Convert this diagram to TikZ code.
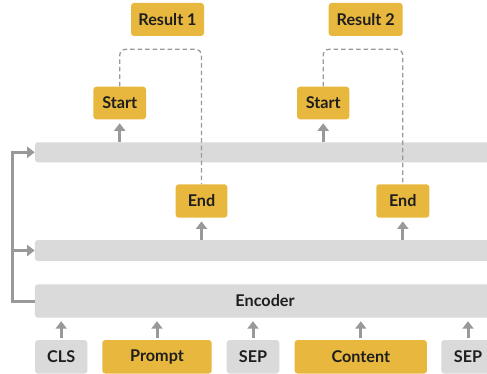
\documentclass[tikz,border=0pt]{standalone}
\usepackage{fontspec}
\setmainfont{Lato}
\usetikzlibrary{arrows.meta}
\definecolor{ybox}{HTML}{E8B83E}
\definecolor{gbox}{HTML}{DADADA}
\definecolor{garr}{HTML}{999999}
\definecolor{txt}{HTML}{1E1E1E}
\tikzset{
  base/.style={rounded corners=3pt, inner sep=0pt, font=\fontsize{16.2}{19}\selectfont\bfseries, text=txt},
  yel/.style={base, fill=ybox},
  gry/.style={base, fill=gbox},
  arr/.style={draw=garr, line width=3pt, -{Triangle[width=11pt,length=7.5pt]}},
  fb/.style={draw=garr, line width=3pt, -{Triangle[width=11pt,length=7.5pt]}},
  dashline/.style={draw=garr, line width=1.3pt, dash pattern=on 4.5pt off 3pt, rounded corners=6pt}
}
\begin{document}
\begin{tikzpicture}[x=1pt,y=-1pt]
\clip (0,0) rectangle (487,374);
\fill[white] (0,0) rectangle (487,374);
% bars
\node[gry, minimum width=465pt, minimum height=20pt, anchor=west] (b1) at (34.7,152.3) {};
\node[gry, minimum width=465pt, minimum height=21pt, anchor=west] (b2) at (34.7,250.5) {};
\node[gry, minimum width=460.3pt, minimum height=33.4pt, anchor=west] (enc) at (34.7,301) {Encoder};
% tokens
\node[gry, minimum width=52.3pt, minimum height=33.5pt] (cls) at (61.2,356.8) {CLS};
\node[yel, minimum width=109.4pt, minimum height=33.5pt] (prompt) at (157,356.8) {Prompt};
\node[gry, minimum width=52.6pt, minimum height=33.5pt] (sep1) at (253,356.8) {SEP};
\node[yel, minimum width=132.3pt, minimum height=33.5pt] (content) at (360.8,356.8) {Content};
\node[gry, minimum width=53.4pt, minimum height=33.5pt] (sep2) at (468,356.8) {SEP};
% outputs
\node[yel, minimum width=73pt, minimum height=33pt] (r1) at (167.5,19.5) {Result 1};
\node[yel, minimum width=74pt, minimum height=33pt] (r2) at (365.7,19.5) {Result 2};
\node[yel, minimum width=52.7pt, minimum height=32.6pt] (s1) at (119.7,103) {Start};
\node[yel, minimum width=52.3pt, minimum height=32.6pt] (s2) at (323.2,103) {Start};
\node[yel, minimum width=51.6pt, minimum height=33.4pt] (e1) at (201.5,201) {End};
\node[yel, minimum width=53pt, minimum height=33.4pt] (e2) at (402.8,201) {End};
% token arrows
\foreach \t in {cls,prompt,sep1,content,sep2}{
  \draw[arr, shorten <=2.3pt, shorten >=3.3pt] (\t.north) -- (\t.north |- enc.south);
}
% bar arrows
\draw[arr, shorten >=3.8pt] (s1.south |- b1.north) -- (s1.south);
\draw[arr, shorten >=3.8pt] (s2.south |- b1.north) -- (s2.south);
\draw[arr, shorten >=3.5pt] (e1.south |- b2.north) -- (e1.south);
\draw[arr, shorten >=3.5pt] (e2.south |- b2.north) -- (e2.south);
% feedback
\coordinate (fx) at (12.7,301);
\coordinate (fm) at (12.7,250.5);
\draw[fb, rounded corners=0pt] (enc.west) -- (fx) |- (b1.west);
\draw[fb] (fm) -- (b2.west);
% dashed
\coordinate (top) at (0,49.3);
\draw[dashline] (s1.north) -- (s1.north |- top) -- (e1.north |- top) -- (e1.north);
\draw[dashline] (s2.north) -- (s2.north |- top) -- (e2.north |- top) -- (e2.north);
\end{tikzpicture}
\end{document}
